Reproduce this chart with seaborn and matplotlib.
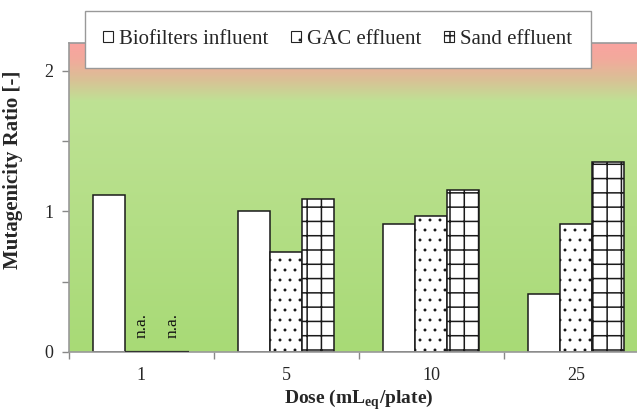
import numpy as np
import pandas as pd
import matplotlib
matplotlib.use("Agg")
import matplotlib.pyplot as plt
import matplotlib.hatch as mhatch
from matplotlib.colors import LinearSegmentedColormap
from matplotlib.patches import Patch
import seaborn as sns

# ---- data ----
doses = ["1", "5", "10", "25"]
series = ["Biofilters influent", "GAC effluent", "Sand effluent"]
biofilters_influent = [1.12, 1.00, 0.91, 0.41]
gac_effluent = [0.0, 0.71, 0.97, 0.91]     # n.a. at dose 1
sand_effluent = [0.0, 1.09, 1.15, 1.35]    # n.a. at dose 1
na_flags = [[False, False, False, False],
            [True, False, False, False],
            [True, False, False, False]]
hatches = ["", ".", "+"]

df = pd.DataFrame({
    "dose": doses * 3,
    "series": [s for s in series for _ in doses],
    "value": biofilters_influent + gac_effluent + sand_effluent,
})

# ---- hatch appearance tweaks: small, denser dots; slightly tighter grid ----
def _dots_init(self, hatch, density):
    self.num_rows = hatch.count('.') * 10
    mhatch.Circles.__init__(self, hatch, density)


def _hlines_init(self, hatch, density):
    self.num_lines = int((hatch.count('-') + hatch.count('+')) * 7)
    self.num_vertices = self.num_lines * 2


def _vlines_init(self, hatch, density):
    self.num_lines = int((hatch.count('|') + hatch.count('+')) * 7)
    self.num_vertices = self.num_lines * 2


mhatch.SmallFilledCircles.__init__ = _dots_init
mhatch.SmallFilledCircles.size = 0.07
mhatch.HorizontalHatch.__init__ = _hlines_init
mhatch.VerticalHatch.__init__ = _vlines_init

sns.set_style("ticks")
plt.rcParams["font.family"] = ["Liberation Serif", "DejaVu Serif"]
plt.rcParams["mathtext.fontset"] = "custom"
plt.rcParams["mathtext.rm"] = "Liberation Serif"
plt.rcParams["mathtext.bf"] = "Liberation Serif:bold"
plt.rcParams["hatch.linewidth"] = 1.1
plt.rcParams["hatch.color"] = "#111111"

fig = plt.figure(figsize=(6.37, 4.13), dpi=100)
ax = fig.add_axes([0.1078, 0.1477, 0.9105, 0.7489])

# gradient background
ymax = 2.2
stops = [(0.0, (168, 218, 118)), (1.78 / ymax, (190, 226, 148)),
         (1.94 / ymax, (218, 192, 150)), (2.08 / ymax, (242, 170, 156)),
         (1.0, (250, 163, 160))]
cmap = LinearSegmentedColormap.from_list(
    "bg", [(p, tuple(c / 255 for c in col)) for p, col in stops])
grad = np.linspace(0, 1, 256).reshape(-1, 1)
ax.imshow(grad, cmap=cmap, aspect="auto", extent=(0, 1, 0, 1),
          transform=ax.transAxes, origin="lower", zorder=0)

sns.barplot(data=df, x="dose", y="value", hue="series", order=doses,
            hue_order=series, palette=["white"] * 3, saturation=1,
            edgecolor="#1a1a1a", linewidth=1.1, width=0.66, dodge=True,
            legend=False, errorbar=None, ax=ax, zorder=2)

for cont, h, flags in zip(ax.containers, hatches, na_flags):
    for patch, na in zip(cont.patches, flags):
        patch.set_hatch(h)
        patch.set_zorder(2)
        if na:
            patch.set_hatch("")
            patch.set_linewidth(1.6)
            patch.set_edgecolor("#333333")
            patch.set_zorder(3)
            xc = patch.get_x() + patch.get_width() / 2
            ax.text(xc, 0.1, "n.a.", rotation=90, ha="center", va="bottom",
                    fontsize=12.5, color="#111111", zorder=3)

ax.set_ylim(0, ymax)
ax.set_xlim(-0.5, len(doses) - 0.5)
ax.set_yticks([0, 0.5, 1, 1.5, 2])
ax.set_yticklabels(["0", "", "1", "", "2"])
ax.set_xticks(range(len(doses)))
ax.set_xticklabels(doses)
ax.set_xticks(np.arange(-0.5, len(doses), 1.0), minor=True)
ax.tick_params(axis="x", which="major", length=0, pad=11, labelsize=13)
ax.tick_params(axis="x", which="minor", length=5, color="#888888", width=1)
ax.tick_params(axis="y", length=5, color="#888888", width=1, pad=6,
               labelsize=13)

for s in ["left", "bottom", "top", "right"]:
    ax.spines[s].set_color("#999999")
    ax.spines[s].set_linewidth(1.2)

ax.set_xlabel(r"Dose (mL$_{\mathbf{eq}}$/plate)", fontsize=14,
              fontweight="bold", labelpad=2)
ax.set_ylabel("Mutagenicity Ratio [-]", fontsize=15, fontweight="bold")
ax.yaxis.set_label_coords(-0.079, 0.59)

handles = [Patch(facecolor="white", edgecolor="#222222", hatch=h,
                 linewidth=0.8) for h in hatches]
leg = fig.legend(handles, series, loc="center", ncol=3,
                 bbox_to_anchor=(0.530, 0.904), frameon=True, fancybox=False,
                 framealpha=1, edgecolor="#999999", fontsize=15,
                 handlelength=0.45, handleheight=0.45, handletextpad=0.3,
                 columnspacing=1.1, borderpad=0.9, borderaxespad=0)
leg.get_frame().set_linewidth(1.0)

fig.savefig("out.png", dpi=100)
